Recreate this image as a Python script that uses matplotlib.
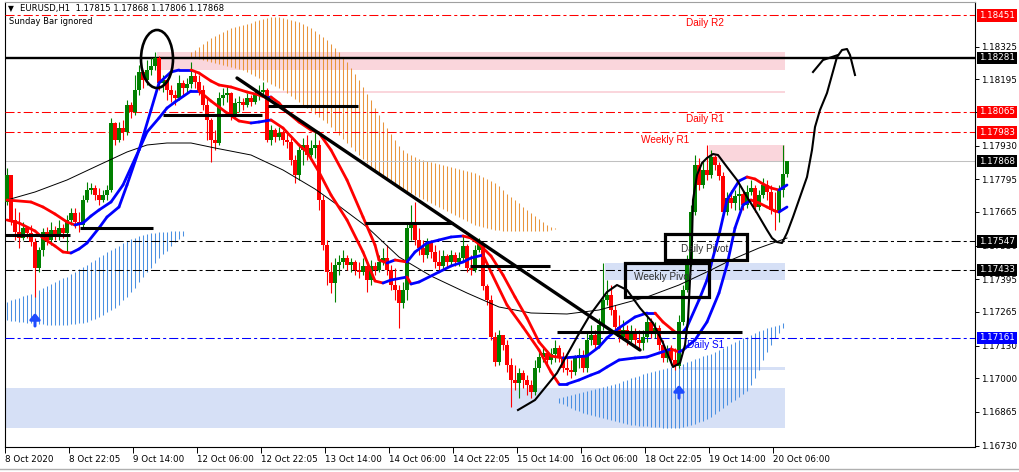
import numpy as np
import matplotlib
matplotlib.use("Agg")
import matplotlib.pyplot as plt
from matplotlib.collections import LineCollection
from matplotlib.patches import Rectangle, Ellipse
from matplotlib import transforms

plt.rcParams['font.family'] = ['DejaVu Sans']
plt.rcParams['lines.scale_dashes'] = False

# ---------------------------------------------------------------- data
# prices are stored in points (1 point = 0.00001)
symbol = "EURUSD,H1"
first_open_pts = 117705

close_pts = [
    117813, 117633, 117585, 117561, 117601, 117581, 117545, 117441, 117513, 117585,
    117553, 117593, 117569, 117601, 117581, 117633, 117661, 117625, 117613, 117713,
    117753, 117761, 117733, 117713, 117733, 117753, 118021, 117953, 118001, 117985,
    118093, 118065, 118153, 118225, 118193, 118233, 118249, 118281, 118181, 118193,
    118153, 118133, 118121, 118181, 118161, 118177, 118209, 118185, 118153, 118093,
    118033, 117953, 117941, 118121, 118133, 118141, 118053, 118101, 118105, 118093,
    118121, 118105, 118133, 118145, 118153, 117953, 117993, 117965, 117981, 117953,
    117945, 117873, 117813, 117913, 117933, 117893, 117921, 117933, 117713, 117533,
    117425, 117381, 117453, 117465, 117481, 117453, 117465, 117433, 117425, 117449,
    117393, 117449, 117433, 117465, 117481, 117433, 117373, 117353, 117301, 117353,
    117601, 117613, 117553, 117521, 117493, 117541, 117505, 117465, 117449, 117489,
    117465, 117493, 117465, 117481, 117529, 117441, 117433, 117513, 117537, 117369,
    117313, 117165, 117065, 117173, 117133, 117053, 116993, 116981, 117021, 116993,
    116973, 116945, 117041, 117085, 117101, 117073, 117097, 117121, 117081, 117041,
    117033, 117025, 117081, 117093, 117041, 117153, 117173, 117133, 117213, 117313,
    117333, 117273, 117205, 117165, 117193, 117153, 117185, 117153, 117141, 117165,
    117225, 117181, 117201, 117133, 117081, 117113, 117073, 117049, 117225, 117353,
    117465, 117665, 117853, 117773, 117833, 117813, 117885, 117853, 117809, 117665,
    117721, 117701, 117729, 117737, 117693, 117745, 117761, 117685, 117733, 117773,
    117745, 117673, 117665, 117753, 117815, 117868]

high_pts = [
    117841, 117813, 117681, 117665, 117625, 117609, 117613, 117561, 117525, 117601,
    117605, 117625, 117609, 117633, 117617, 117653, 117681, 117681, 117665, 117733,
    117785, 117781, 117773, 117761, 117753, 117773, 118041, 118025, 118025, 118033,
    118113, 118105, 118213, 118253, 118233, 118273, 118281, 118305, 118289, 118213,
    118193, 118173, 118153, 118213, 118193, 118201, 118265, 118225, 118213, 118173,
    118125, 118041, 117993, 118145, 118161, 118173, 118145, 118121, 118129, 118121,
    118141, 118133, 118153, 118173, 118185, 118161, 118013, 118001, 118005, 117993,
    117981, 117961, 117893, 117933, 117961, 117973, 117953, 117993, 117953, 117733,
    117553, 117465, 117481, 117493, 117513, 117493, 117481, 117473, 117465, 117481,
    117465, 117473, 117465, 117493, 117521, 117533, 117453, 117441, 117373, 117385,
    117625, 117693, 117705, 117601, 117553, 117561, 117553, 117533, 117513, 117513,
    117497, 117513, 117505, 117505, 117573, 117537, 117493, 117533, 117561, 117545,
    117377, 117333, 117185, 117193, 117173, 117153, 117081, 117053, 117041, 117033,
    117013, 116993, 117073, 117105, 117121, 117113, 117121, 117153, 117133, 117105,
    117081, 117073, 117093, 117121, 117113, 117185, 117213, 117193, 117241, 117461,
    117393, 117373, 117293, 117253, 117233, 117213, 117213, 117201, 117193, 117193,
    117253, 117241, 117225, 117213, 117153, 117133, 117133, 117121, 117253, 117373,
    117493, 117693, 117893, 117881, 117865, 117933, 117913, 117893, 117865, 117825,
    117745, 117753, 117753, 117773, 117753, 117773, 117793, 117773, 117753, 117801,
    117793, 117773, 117745, 117773, 117933, 117868]

low_pts = [
    117693, 117613, 117553, 117521, 117553, 117561, 117529, 117325, 117425, 117489,
    117533, 117533, 117553, 117553, 117561, 117505, 117613, 117601, 117585, 117601,
    117705, 117737, 117713, 117693, 117705, 117713, 117745, 117933, 117945, 117953,
    117973, 118041, 118053, 118133, 118161, 118173, 118213, 118233, 118153, 118145,
    118113, 118105, 118093, 118113, 118133, 118145, 118161, 118161, 118133, 118073,
    117953, 117865, 117913, 117933, 118093, 118105, 118033, 118041, 118065, 118073,
    118085, 118089, 118097, 118113, 118129, 117945, 117933, 117945, 117953, 117933,
    117921, 117853, 117781, 117793, 117853, 117873, 117873, 117881, 117673, 117513,
    117373, 117341, 117305, 117413, 117441, 117433, 117425, 117413, 117401, 117413,
    117345, 117373, 117413, 117425, 117453, 117413, 117353, 117313, 117201, 117281,
    117313, 117553, 117533, 117493, 117465, 117481, 117481, 117441, 117425, 117433,
    117441, 117449, 117449, 117449, 117465, 117425, 117413, 117425, 117505, 117353,
    117293, 117153, 117049, 117053, 117113, 117025, 116885, 116953, 116921, 116961,
    116933, 116921, 116933, 117025, 117065, 117053, 117057, 117065, 117065, 117025,
    117013, 117001, 117013, 117041, 117025, 117025, 117133, 117113, 117121, 117193,
    117293, 117253, 117185, 117145, 117153, 117133, 117145, 117133, 117121, 117113,
    117145, 117161, 117161, 117113, 117065, 117065, 117053, 117033, 117041, 117213,
    117345, 117449, 117653, 117753, 117761, 117793, 117801, 117833, 117793, 117641,
    117653, 117681, 117673, 117673, 117673, 117681, 117733, 117665, 117673, 117721,
    117713, 117657, 117593, 117625, 117725, 117806]

# band-of-highs / band-of-lows averages (bar index, points)
upper_ma_bar = [0, 6, 9, 12, 15, 17, 19, 21, 23, 26, 29, 33, 36, 38, 41, 43, 46, 48, 51, 53,
                56, 60, 63, 65, 66, 68, 70, 73, 76, 78, 81, 85, 89, 92, 93, 95, 97, 100, 102, 105,
                108, 111, 114, 116, 118, 121, 124, 127, 130, 133, 136, 139, 142, 145, 148, 150,
                153, 157, 160, 162, 164, 167, 169, 170, 173, 175, 176, 178, 180, 183, 185, 187,
                189, 191, 193, 195]
upper_ma_pts = [117713, 117705, 117685, 117657, 117625, 117613, 117621, 117649, 117673, 117705,
                117773, 117913, 118073, 118181, 118225, 118233, 118233, 118221, 118189, 118173,
                118165, 118145, 118133, 118121, 118125, 118101, 118065, 118025, 117993, 117981,
                117913, 117793, 117645, 117533, 117473, 117461, 117473, 117465, 117505, 117541,
                117553, 117565, 117569, 117561, 117537, 117489, 117413, 117325, 117241, 117145,
                117089, 117081, 117085, 117089, 117125, 117161, 117201, 117245, 117261, 117261,
                117225, 117185, 117185, 117205, 117313, 117393, 117453, 117573, 117713, 117789,
                117805, 117797, 117777, 117761, 117753, 117773]
lower_ma_bar = [0, 3, 7, 9, 12, 14, 16, 18, 20, 23, 25, 28, 30, 33, 35, 38, 40, 42, 46, 48,
                51, 53, 55, 58, 61, 63, 66, 69, 73, 75, 78, 81, 85, 89, 92, 94, 96, 100, 101, 103,
                108, 111, 114, 116, 119, 121, 125, 129, 133, 136, 138, 140, 143, 146, 148, 150,
                153, 157, 160, 163, 166, 168, 169, 172, 175, 178, 180, 182, 184, 186, 188, 190,
                192, 193, 195]
lower_ma_pts = [117633, 117621, 117589, 117561, 117529, 117505, 117501, 117517, 117541, 117601,
                117645, 117685, 117773, 117913, 117985, 118041, 118081, 118105, 118149, 118149,
                118109, 118085, 118061, 118029, 118021, 118025, 118033, 118001, 117933, 117905,
                117825, 117733, 117633, 117505, 117389, 117381, 117393, 117405, 117377, 117385,
                117425, 117449, 117465, 117481, 117493, 117425, 117293, 117205, 117113, 117025,
                116977, 116977, 116993, 117013, 117025, 117045, 117073, 117081, 117085, 117101,
                117117, 117105, 117113, 117153, 117225, 117341, 117453, 117601, 117693, 117713,
                117701, 117685, 117669, 117665, 117685]
# slow moving average
slow_ma_bar = [0, 7, 15, 23, 30, 35, 40, 46, 52, 61, 69, 77, 83, 90, 98, 106, 115, 123, 131,
               140, 148, 160, 168, 176, 181, 188, 195]
slow_ma_pts = [117713, 117745, 117793, 117853, 117905, 117933, 117941, 117941, 117921, 117893,
               117833, 117757, 117689, 117605, 117485, 117409, 117341, 117285, 117261, 117257,
               117273, 117325, 117373, 117433, 117473, 117521, 117561]

# bearish cloud histogram (starts at bar 46)
bear_cloud_start = 46
bear_cloud_hi = [
    118305, 118313, 118325, 118337, 118349, 118361, 118369, 118377, 118385, 118393,
    118401, 118405, 118409, 118413, 118417, 118421, 118429, 118433, 118437, 118441,
    118445, 118445, 118445, 118441, 118437, 118433, 118429, 118425, 118417, 118409,
    118401, 118389, 118377, 118365, 118353, 118337, 118321, 118305, 118285, 118265,
    118241, 118217, 118193, 118165, 118137, 118113, 118081, 118053, 118025, 118001,
    117977, 117953, 117929, 117913, 117901, 117893, 117885, 117877, 117873, 117869,
    117865, 117861, 117857, 117853, 117849, 117845, 117841, 117837, 117833, 117829,
    117825, 117821, 117813, 117805, 117797, 117789, 117781, 117769, 117753, 117737,
    117725, 117713, 117701, 117685, 117673, 117661, 117649, 117637, 117625, 117613,
    117605, 117601]
bear_cloud_lo = [
    118281, 118281, 118277, 118273, 118269, 118265, 118261, 118257, 118253, 118249,
    118245, 118241, 118237, 118233, 118225, 118217, 118209, 118201, 118193, 118185,
    118177, 118169, 118161, 118153, 118141, 118129, 118117, 118105, 118093, 118081,
    118069, 118057, 118045, 118033, 118021, 118005, 117989, 117973, 117957, 117941,
    117925, 117909, 117893, 117877, 117861, 117845, 117833, 117821, 117809, 117797,
    117785, 117773, 117765, 117757, 117749, 117741, 117733, 117725, 117717, 117709,
    117701, 117693, 117685, 117677, 117669, 117661, 117653, 117645, 117637, 117629,
    117621, 117613, 117609, 117605, 117601, 117597, 117593, 117593, 117589, 117589,
    117589, 117589, 117589, 117589, 117589, 117589, 117589, 117589, 117589, 117589,
    117593, 117597]

# bullish cloud histograms
bull_cloud1_start = 0
bull_cloud1_hi = [
    117305, 117313, 117317, 117321, 117329, 117333, 117337, 117345, 117353, 117361,
    117369, 117377, 117385, 117393, 117401, 117405, 117417, 117425, 117437, 117445,
    117453, 117465, 117473, 117485, 117493, 117505, 117513, 117521, 117529, 117541,
    117549, 117557, 117561, 117569, 117573, 117577, 117581, 117581, 117585, 117585,
    117585, 117589, 117589, 117589, 117589]
bull_cloud1_lo = [
    117233, 117229, 117229, 117225, 117225, 117221, 117221, 117221, 117217, 117217,
    117213, 117213, 117213, 117213, 117213, 117213, 117217, 117217, 117221, 117221,
    117225, 117233, 117237, 117245, 117253, 117265, 117273, 117281, 117293, 117313,
    117325, 117345, 117361, 117385, 117405, 117425, 117441, 117461, 117481, 117497,
    117509, 117529, 117545, 117557, 117569]
bull_cloud2_start = 138
bull_cloud2_hi = [
    116921, 116925, 116929, 116933, 116937, 116941, 116945, 116949, 116953, 116957,
    116961, 116965, 116969, 116973, 116977, 116981, 116989, 116993, 117001, 117005,
    117009, 117017, 117021, 117025, 117029, 117033, 117037, 117041, 117045, 117049,
    117053, 117057, 117065, 117069, 117077, 117081, 117089, 117093, 117097, 117105,
    117113, 117121, 117129, 117137, 117145, 117153, 117161, 117165, 117173, 117181,
    117189, 117193, 117201, 117205, 117209, 117213, 117221]
bull_cloud2_lo = [
    116901, 116897, 116889, 116881, 116873, 116869, 116861, 116857, 116853, 116849,
    116845, 116841, 116837, 116833, 116829, 116825, 116821, 116817, 116813, 116813,
    116809, 116809, 116809, 116805, 116805, 116805, 116801, 116801, 116801, 116801,
    116801, 116805, 116809, 116813, 116817, 116825, 116829, 116837, 116845, 116857,
    116869, 116881, 116893, 116905, 116913, 116925, 116937, 116949, 116973, 117001,
    117033, 117073, 117105, 117133, 117161, 117181, 117201]

# pivot levels
pivot_names = ["Daily R2", "Daily R1", "Weekly R1", "Daily Pivot", "Weekly Pivot", "Daily S1"]
pivot_values = [1.18451, 1.18065, 1.17983, 1.17547, 1.17433, 1.17161]
swing_high_level = 1.18281

# supply (pink) and demand (blue) zones: low, high, first bar, last bar
supply_lo = [118233, 118141, 117865]
supply_hi = [118305, 118149, 117933]
supply_from = [37.5, 64.0, 175.5]
demand_lo = [116801, 117393, 117033]
demand_hi = [116961, 117461, 117045]
demand_from = [-0.5, 149.5, 168.0]
zone_to = 194.5

# hand-drawn analysis
trend_bar = [57.5, 158.25]
trend_pts = [118201, 117113]
shelf_pts = [117573, 117601, 118053, 118089, 117621, 117449, 117185]
shelf_from = [-0.5, 18.25, 39.0, 65.25, 89.5, 115.75, 137.5]
shelf_to = [15.75, 36.5, 63.75, 87.75, 111.5, 135.75, 183.75]
path_bar = [127.75, 132, 137.5, 142.5, 145.75, 150, 152.5, 155, 158.25, 161.5,
            164, 166.5, 168.25, 169.5, 170.25, 170.75, 171.25, 171.5, 172.5, 173.75,
            175, 176.5, 177.75, 180, 182.5, 185, 187.5, 190, 191.25, 192.5,
            193.75, 195, 196.5, 198.25, 200, 201.25, 202, 203.25, 205, 206.25,
            207.5, 208.75, 210, 210.75, 212]
path_pts = [116873, 116913, 117021, 117165, 117253, 117345, 117373, 117353, 117281, 117221,
            117141, 117045, 117061, 117133, 117233, 117393, 117553, 117713, 117813, 117861,
            117881, 117897, 117893, 117845, 117793, 117725, 117661, 117593, 117561, 117545,
            117541, 117581, 117645, 117725, 117805, 117913, 118005, 118073, 118141, 118213,
            118285, 118313, 118317, 118293, 118213]
arrowhead_bar = [201.5, 204, 206.25, 207.75]
arrowhead_pts = [118225, 118273, 118285, 118293]
box_bar = [(164.5, 185.0), (154.5, 175.5)]
box_pts = [(117473, 117577), (117325, 117461)]
circle_center = (37.5, 118277)
circle_size = (8.0, 232)
signal_bar = [7, 168]
signal_pts = [117261, 116973]

x_tick_bars = [0, 16, 32, 48, 64, 80, 96, 112, 128, 144, 160, 176, 192]
x_tick_labels = ["8 Oct 2020", "8 Oct 22:05", "9 Oct 14:00", "12 Oct 06:00", "12 Oct 22:05",
                 "13 Oct 14:00", "14 Oct 06:00", "14 Oct 22:05", "15 Oct 14:00",
                 "16 Oct 06:00", "18 Oct 22:05", "19 Oct 14:00", "20 Oct 06:00"]
y_ticks = [1.18325, 1.18195, 1.18065, 1.17930, 1.17795, 1.17665, 1.17530, 1.17395,
           1.17265, 1.17130, 1.17000, 1.16865, 1.16730]

# ---------------------------------------------------------------- helpers
def px(a):
    return np.asarray(a, dtype=float) * 1e-5

closes = px(close_pts)
highs = px(high_pts)
lows = px(low_pts)
opens = np.r_[first_open_pts * 1e-5, closes[:-1]]   # hourly bars open at the prior close
n = len(closes)
bars = np.arange(n)

RED = '#ff0000'
GREEN = '#008000'
BLUE = '#0000ff'
ORANGE = '#e8953c'
HISTBLUE = '#4a90e2'
PINK = '#fad6dc'
LIGHTBLUE = '#d6e0f6'
DASHDOT = (0, (6.5, 2.2, 2.2, 2.2))

W, H = 1019, 472
fig = plt.figure(figsize=(W / 100, H / 100), dpi=100)
fig.patch.set_facecolor('white')
ax = fig.add_axes([5 / W, 1 - 447 / H, 970 / W, 445 / H])
ax.set_xlim(-0.5, 242)
ax.set_ylim(1.16725, 1.18505)
ax.set_facecolor('white')

# zones
for lo, hi, x0 in zip(supply_lo, supply_hi, supply_from):
    ax.add_patch(Rectangle((x0, lo * 1e-5), zone_to - x0, (hi - lo) * 1e-5,
                           facecolor=PINK, edgecolor='none', zorder=1))
for lo, hi, x0 in zip(demand_lo, demand_hi, demand_from):
    ax.add_patch(Rectangle((x0, lo * 1e-5), zone_to - x0, (hi - lo) * 1e-5,
                           facecolor=LIGHTBLUE, edgecolor='none', zorder=1))

# cloud histograms
def cloud(start, hi, lo, color):
    idx = start + np.arange(len(hi))
    ax.vlines(idx, px(lo), px(hi), colors=color, lw=0.75, zorder=2)

cloud(bear_cloud_start, bear_cloud_hi, bear_cloud_lo, ORANGE)
cloud(bull_cloud1_start, bull_cloud1_hi, bull_cloud1_lo, HISTBLUE)
cloud(bull_cloud2_start, bull_cloud2_hi, bull_cloud2_lo, HISTBLUE)

# level lines
level_colors = [RED, RED, RED, 'black', 'black', BLUE]
for v, c in zip(pivot_values, level_colors):
    ax.axhline(v, color=c, lw=0.75, linestyle=DASHDOT, zorder=3)
ax.axhline(swing_high_level, color='black', lw=1.7, zorder=3)
ax.axhline(closes[-1], color='#c0c0c0', lw=0.75, zorder=2.5)

# candles
up = closes >= opens
cols = np.where(up, GREEN, RED)
wick_hi = np.maximum(highs, np.maximum(opens, closes))
wick_lo = np.minimum(lows, np.minimum(opens, closes))
ax.vlines(bars, wick_lo, wick_hi, colors=cols, lw=0.8, zorder=4)
body_lo = np.minimum(opens, closes)
body_h = np.maximum(np.abs(closes - opens), 2e-5)
ax.bar(bars, body_h, bottom=body_lo, width=0.78, color=cols, linewidth=0, zorder=4.1)

# moving averages, coloured by direction
def direction_line(xb, yp, lw):
    y = px(yp)
    pts = np.column_stack([np.asarray(xb, float), y])
    segs = np.stack([pts[:-1], pts[1:]], axis=1)
    colors = [BLUE if b >= a else RED for a, b in zip(y[:-1], y[1:])]
    ax.add_collection(LineCollection(segs, colors=colors, linewidths=lw,
                                     capstyle='round', joinstyle='round', zorder=5))

ax.plot(slow_ma_bar, px(slow_ma_pts), color='black', lw=0.7, zorder=4.5)
direction_line(upper_ma_bar, upper_ma_pts, 2.0)
direction_line(lower_ma_bar, lower_ma_pts, 2.0)

# hand-drawn analysis
ax.plot(trend_bar, px(trend_pts), color='black', lw=2.4, solid_capstyle='round', zorder=6)
for p, a, b in zip(shelf_pts, shelf_from, shelf_to):
    ax.plot([a, b], [p * 1e-5, p * 1e-5], color='black', lw=2.2, solid_capstyle='butt', zorder=6)
for (a, b), (lo, hi) in zip(box_bar, box_pts):
    ax.add_patch(Rectangle((a, lo * 1e-5), b - a, (hi - lo) * 1e-5, fill=False,
                           edgecolor='black', lw=2.3, zorder=6))
ax.plot(path_bar, px(path_pts), color='black', lw=1.5, solid_joinstyle='round', zorder=6)
ax.plot(arrowhead_bar, px(arrowhead_pts), color='black', lw=1.5, zorder=6)
ax.add_patch(Ellipse((circle_center[0], circle_center[1] * 1e-5), circle_size[0],
                     circle_size[1] * 1e-5, fill=False, edgecolor='black', lw=1.9, zorder=6))
for b, p in zip(signal_bar, signal_pts):
    ax.annotate('', xy=(b, p * 1e-5), xytext=(b, p * 1e-5 - 0.00052),
                arrowprops=dict(arrowstyle='-|>,head_width=0.3,head_length=0.35',
                                color='#1e4cff', lw=2.2, shrinkA=0, shrinkB=0), zorder=7)

# pivot captions
caption_bar = {"Daily R2": 169.75, "Daily R1": 169.75, "Weekly R1": 158.5,
               "Daily Pivot": 168.5, "Weekly Pivot": 156.75, "Daily S1": 170.0}
caption_color = {"Daily R2": RED, "Daily R1": RED, "Weekly R1": RED,
                 "Daily Pivot": '#303030', "Weekly Pivot": '#303030', "Daily S1": BLUE}
for name, v in zip(pivot_names, pivot_values):
    ax.annotate(name, xy=(caption_bar[name], v), xytext=(0, -1.5), textcoords='offset points',
                ha='left', va='top', fontsize=7.2, family=['Liberation Sans', 'DejaVu Sans'],
                color=caption_color[name], zorder=8)

# axes styling
for s in ax.spines.values():
    s.set_linewidth(0.8)
    s.set_color('black')
ax.spines['top'].set_color('#a0a0a0')
ax.yaxis.tick_right()
tag_values = list(pivot_values) + [swing_high_level, closes[-1]]
ax.set_yticks(y_ticks)
# a grid price that coincides with a tagged level is covered by the tag
ax.set_yticklabels(["" if any(abs(v - t) < 5e-6 for t in tag_values) else f"{v:.5f}"
                    for v in y_ticks])
ax.tick_params(axis='y', direction='out', length=3, width=0.7, pad=1.5, labelsize=6.3)
ax.set_xticks(np.asarray(x_tick_bars) - 0.5)
ax.set_xticklabels(x_tick_labels)
ax.tick_params(axis='x', direction='out', length=4, width=0.7, pad=1.5, labelsize=6.3)
for lab in ax.get_xticklabels():
    lab.set_ha('left')

# price tags on the scale
tag_tr = transforms.blended_transform_factory(ax.transAxes, ax.transData)
tags = [(v, c) for v, c in zip(pivot_values, [RED, RED, RED, 'black', 'black', BLUE])]
tags += [(swing_high_level, 'black'), (closes[-1], 'black')]
for v, c in tags:
    ax.text(1.0 + 4 / 970, v, f"{v:.5f}", transform=tag_tr, ha='left', va='center',
            fontsize=6.3, color='white', zorder=10, clip_on=False,
            bbox=dict(boxstyle='square,pad=0.2', facecolor=c, edgecolor='none'))

# header
fig.text(8 / W, 1 - 9 / H, '\u25bc', fontsize=5.5, va='center', ha='left')
fig.text(20 / W, 1 - 9 / H,
         f"{symbol}  {opens[-1]:.5f} {highs[-1]:.5f} {lows[-1]:.5f} {closes[-1]:.5f}",
         fontsize=6.1, va='center', ha='left')
fig.text(9 / W, 1 - 22 / H, "Sunday Bar ignored", fontsize=6.0, va='center', ha='left')

fig.add_artist(plt.Line2D([0, 1], [1 - 469 / H, 1 - 469 / H], transform=fig.transFigure,
                          color='#b0b0b0', lw=1.0))

fig.savefig('out.png', dpi=100)
